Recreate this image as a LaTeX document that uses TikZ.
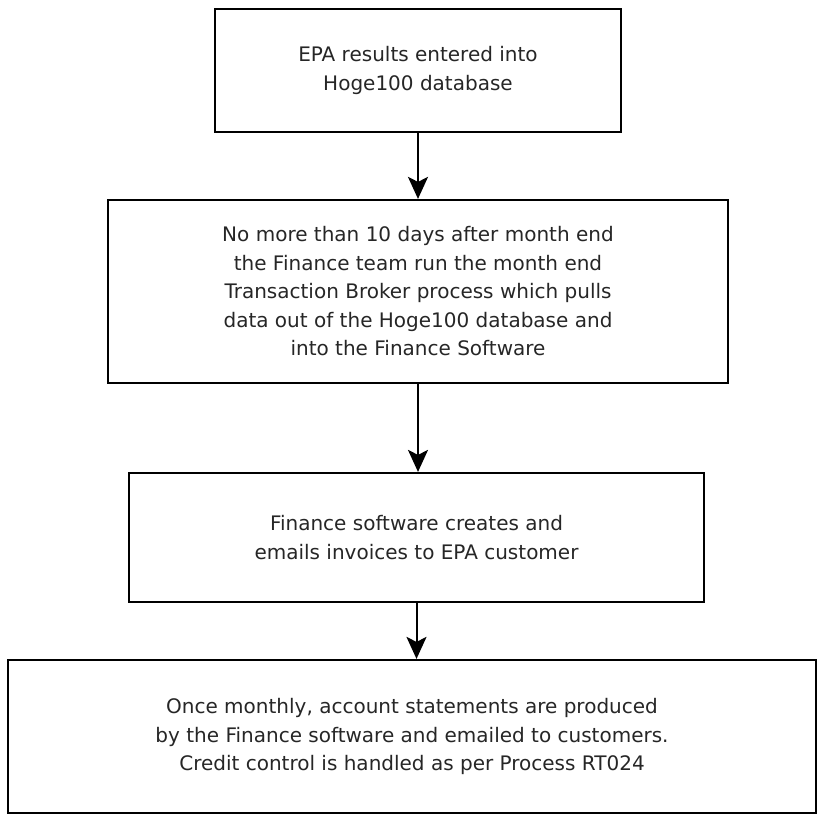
\documentclass[tikz,border=0pt]{standalone}
\usepackage{fontspec}
\setmainfont{DejaVu Sans}
\usetikzlibrary{arrows.meta}

\tikzset{
  procbox/.style={draw=black, line width=2.2pt, align=center, inner sep=0pt,
    font=\fontsize{20}{28.5}\selectfont, text=black!85},
  flowarrow/.style={line width=2pt, -{Stealth[width=20pt,length=22pt,inset=5pt]}}
}

\begin{document}
\begin{tikzpicture}[x=1pt,y=1pt]
\useasboundingbox (0,0) rectangle (818,-814);
\node[procbox, minimum width=406pt, minimum height=123pt] (entry) at (418,-70.5)
  {EPA results entered into\\Hoge100 database};
\node[procbox, minimum width=620pt, minimum height=183pt] (broker) at (418,-291.5)
  {No more than 10 days after month end\\the Finance team run the month end\\Transaction Broker process which pulls\\data out of the Hoge100 database and\\into the Finance Software};
\node[procbox, minimum width=575pt, minimum height=129pt] (invoice) at (416.5,-537.5)
  {Finance software creates and\\emails invoices to EPA customer};
\node[procbox, minimum width=808pt, minimum height=153pt] (statement) at (412,-736.5)
  {Once monthly, account statements are produced\\by the Finance software and emailed to customers.\\Credit control is handled as per Process RT024};
% arrows between the steps
\draw[flowarrow] (entry.south) -- (entry.south |- broker.north);
\draw[flowarrow] (broker.south) -- (broker.south |- invoice.north);
\draw[flowarrow] (invoice.south) -- (invoice.south |- statement.north);
\end{tikzpicture}
\end{document}
